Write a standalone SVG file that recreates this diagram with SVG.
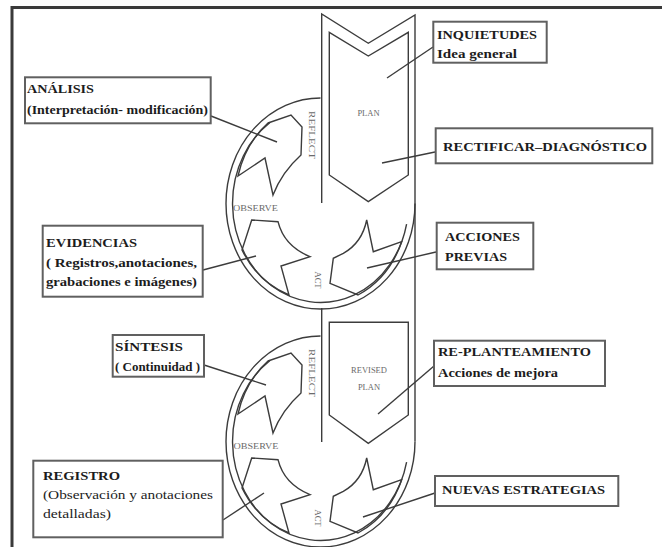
<svg xmlns="http://www.w3.org/2000/svg" xmlns:xlink="http://www.w3.org/1999/xlink" width="662" height="547" viewBox="0 0 662 547">
<style>
.ln{fill:none;stroke:#3c3c3c;stroke-width:1.4;stroke-linejoin:miter}
.ar{fill:#fff;stroke:#3c3c3c;stroke-width:1.4;stroke-linejoin:miter}
.box{fill:#fff;stroke:#606060;stroke-width:2}
.con{stroke:#3c3c3c;stroke-width:1.4}
.t{font-family:"Liberation Serif","Times New Roman",serif;font-weight:bold;font-size:12.5px;fill:#1c1c1c}
.n{font-weight:normal}
.s{font-family:"Liberation Serif","Times New Roman",serif;font-size:8.5px;fill:#6a6a6a}
</style>
<defs>
<g id="cycle">
<path class="ar" d="M 268 123 L 291 115 L 302 127 L 301 155 Q 282 172 273 195 L 265 158 L 238 176 A 88 99 0 0 1 268 123 Z"/>
<path class="ar" d="M 251.7 220 L 278 221.7 Q 284 246 310 256.7 L 281 266 L 289 295 A 88 99 0 0 1 242 250 Z"/>
<path class="ar" d="M 366.7 220 L 373.3 251.7 L 401.7 241.7 A 88 99 0 0 1 358 295 L 330 283.3 L 333.3 258.3 L 343.3 253.3 Q 362 243 366.7 220 Z"/>
<path class="ln" d="M 320.5 98 A 94.5 105.5 0 1 0 415 203.5"/>
<path class="ln" d="M 270 122.4 A 88 99 0 1 0 406.6 224.1"/>
</g>
</defs>
<rect x="0" y="0" width="662" height="547" fill="#fff"/>
<rect x="12" y="7.5" width="670" height="560" fill="none" stroke="#3a3a3a" stroke-width="3"/>

<g id="cycle-1">
<use xlink:href="#cycle" href="#cycle"/>
<text class="s" transform="translate(309 135) rotate(90)" text-anchor="middle" textLength="48" lengthAdjust="spacingAndGlyphs">REFLECT</text>
<text class="s" x="255.5" y="211" text-anchor="middle" font-size="8" textLength="45" lengthAdjust="spacingAndGlyphs">OBSERVE</text>
<text class="s" transform="translate(314.5 280) rotate(90)" text-anchor="middle" font-size="8">ACT</text>
</g>
<g id="cycle-2">
<use xlink:href="#cycle" href="#cycle" transform="translate(0 238)"/>
<text class="s" transform="translate(309 373) rotate(90)" text-anchor="middle" textLength="48" lengthAdjust="spacingAndGlyphs">REFLECT</text>
<text class="s" x="256" y="449" text-anchor="middle" font-size="8" textLength="45" lengthAdjust="spacingAndGlyphs">OBSERVE</text>
<text class="s" transform="translate(314.5 518) rotate(90)" text-anchor="middle" font-size="8">ACT</text>
</g>

<g id="plan">
<path class="ln" d="M 321.7 203 L 321.7 14 L 368.3 43.3 L 415 15 L 415 441.5"/>
<path class="ln" d="M 329.3 32.3 L 368.3 56 L 408.3 32.3 L 408.3 175 L 368.3 201.7 L 329.3 175 Z"/>
<text class="s" x="368.5" y="116" text-anchor="middle">PLAN</text>
</g>
<g id="revised-plan">
<path class="ln" d="M 321.7 308 L 321.7 442"/>
<path class="ln" d="M 329.3 322.3 L 408.3 322.3 L 408.3 415 L 368.3 443.3 L 329.3 415 Z"/>
<text class="s" x="369" y="373" text-anchor="middle">REVISED</text>
<text class="s" x="369" y="390" text-anchor="middle">PLAN</text>
</g>

<g id="connectors">
<line class="con" x1="433" y1="47" x2="387" y2="78"/>
<line class="con" x1="435" y1="152" x2="382" y2="163"/>
<line class="con" x1="436" y1="252" x2="367" y2="268"/>
<line class="con" x1="434" y1="366" x2="378" y2="414"/>
<line class="con" x1="435" y1="493" x2="363" y2="517"/>
<line class="con" x1="211" y1="116" x2="277" y2="142"/>
<line class="con" x1="203" y1="270" x2="256" y2="256"/>
<line class="con" x1="204" y1="365" x2="266" y2="385"/>
<line class="con" x1="223" y1="520" x2="264" y2="493"/>
</g>

<g id="inquietudes">
<rect class="box" x="433.3" y="21.7" width="113.4" height="41"/>
<text class="t" x="437" y="39" textLength="100" lengthAdjust="spacingAndGlyphs">INQUIETUDES</text>
<text class="t" x="437" y="58" textLength="80" lengthAdjust="spacingAndGlyphs">Idea general</text>
</g>
<g id="rectificar">
<rect class="box" x="435.7" y="128.3" width="216.6" height="35"/>
<text class="t" x="443" y="151" textLength="204" lengthAdjust="spacingAndGlyphs">RECTIFICAR–DIAGNÓSTICO</text>
</g>
<g id="acciones">
<rect class="box" x="436.7" y="222.7" width="96.6" height="46.6"/>
<text class="t" x="445" y="241" textLength="75" lengthAdjust="spacingAndGlyphs">ACCIONES</text>
<text class="t" x="445" y="261" textLength="62" lengthAdjust="spacingAndGlyphs">PREVIAS</text>
</g>
<g id="replanteamiento">
<rect class="box" x="434" y="340.7" width="171" height="45.3"/>
<text class="t" x="438" y="356" textLength="153" lengthAdjust="spacingAndGlyphs">RE-PLANTEAMIENTO</text>
<text class="t" x="438" y="377" textLength="120" lengthAdjust="spacingAndGlyphs">Acciones de mejora</text>
</g>
<g id="nuevas">
<rect class="box" x="435" y="476" width="183.3" height="30"/>
<text class="t" x="442" y="494" textLength="163" lengthAdjust="spacingAndGlyphs">NUEVAS ESTRATEGIAS</text>
</g>
<g id="analisis">
<rect class="box" x="25" y="77.3" width="185.7" height="46"/>
<text class="t" x="27" y="93" textLength="67" lengthAdjust="spacingAndGlyphs">ANÁLISIS</text>
<text class="t" x="27" y="114" textLength="181" lengthAdjust="spacingAndGlyphs">(Interpretación- modificación)</text>
</g>
<g id="evidencias">
<rect class="box" x="42.7" y="225.7" width="160" height="71"/>
<text class="t" x="46" y="247" textLength="91" lengthAdjust="spacingAndGlyphs">EVIDENCIAS</text>
<text class="t" x="46" y="267" textLength="151" lengthAdjust="spacingAndGlyphs">( Registros,anotaciones,</text>
<text class="t" x="46" y="286" textLength="151" lengthAdjust="spacingAndGlyphs">grabaciones e imágenes)</text>
</g>
<g id="sintesis">
<rect class="box" x="112.7" y="335" width="91.3" height="41.7"/>
<text class="t" x="115" y="351" textLength="68" lengthAdjust="spacingAndGlyphs">SÍNTESIS</text>
<text class="t" x="115" y="371" textLength="85" lengthAdjust="spacingAndGlyphs">( Continuidad )</text>
</g>
<g id="registro">
<rect class="box" x="33.3" y="460.7" width="189.4" height="76.6"/>
<text class="t" x="43" y="480" style="font-size:13.5px" textLength="77" lengthAdjust="spacingAndGlyphs">REGISTRO</text>
<text class="t n" x="43" y="499" textLength="170" lengthAdjust="spacingAndGlyphs">(Observación y anotaciones</text>
<text class="t n" x="43" y="518" textLength="68" lengthAdjust="spacingAndGlyphs">detalladas)</text>
</g>
</svg>
